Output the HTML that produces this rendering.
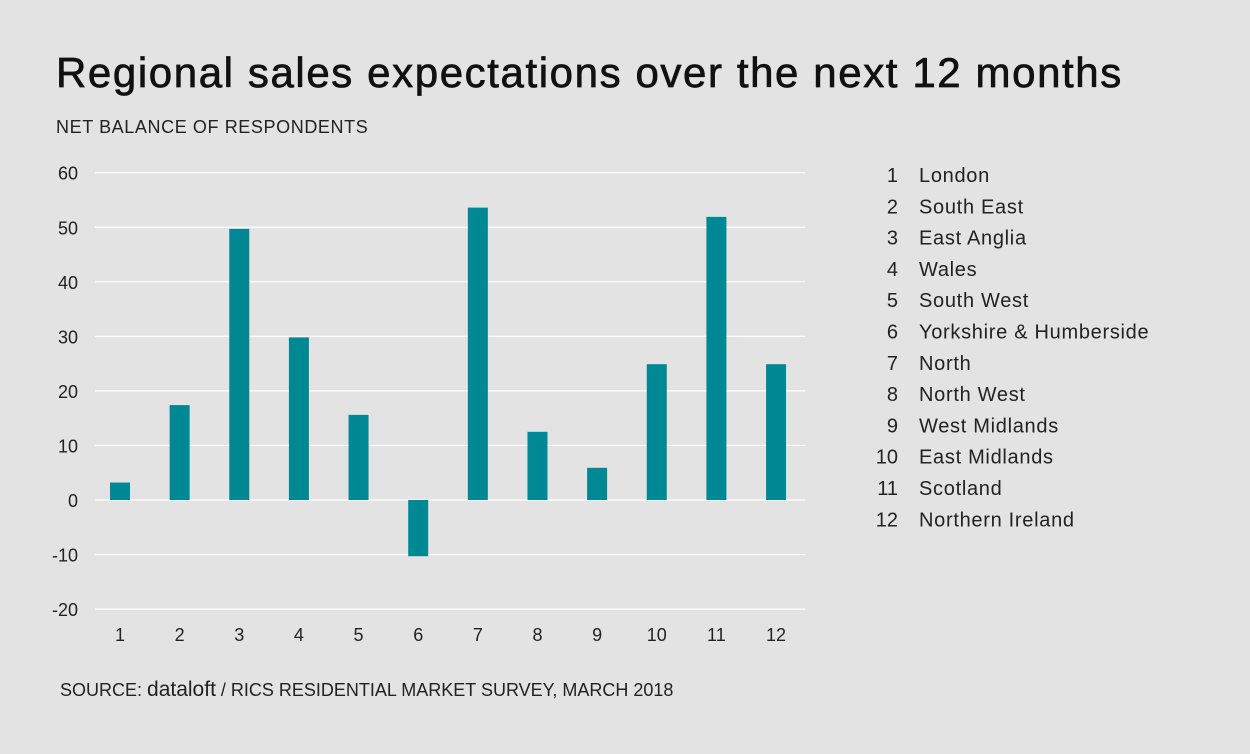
<!DOCTYPE html>
<html><head><meta charset="utf-8"><style>
body{margin:0;width:1250px;height:754px;background:#e3e3e3;font-family:"Liberation Sans",sans-serif;color:#111;overflow:hidden}
#title{position:absolute;left:56px;top:49px;font-size:42px;font-weight:normal;letter-spacing:1.6px;margin:0;-webkit-text-stroke:0.7px #111;white-space:nowrap}
#sub{position:absolute;left:56px;top:117px;font-size:18px;color:#222;letter-spacing:0.6px}
#src{position:absolute;left:60px;top:678px;font-size:18px;color:#222;letter-spacing:0px}
#src b{font-size:21px;font-weight:normal}
svg{position:absolute;left:0;top:0}
</style></head><body>
<h1 id="title">Regional sales expectations over the next 12 months</h1>
<div id="sub">NET BALANCE OF RESPONDENTS</div>
<div id="src">SOURCE: <b>dataloft</b> / RICS RESIDENTIAL MARKET SURVEY, MARCH 2018</div>
<svg id="chart" width="1250" height="754"></svg>
<script>
const categories=["1","2","3","4","5","6","7","8","9","10","11","12"];
const regionNames=["London","South East","East Anglia","Wales","South West","Yorkshire & Humberside","North","North West","West Midlands","East Midlands","Scotland","Northern Ireland"];
const values=[3.2,17.4,49.7,29.8,15.6,-10.3,53.6,12.5,5.9,24.9,51.9,24.9];
const yTicks=[60,50,40,30,20,10,0,-10,-20];
const NS="http://www.w3.org/2000/svg";
const svg=document.getElementById('chart');
const y=v=>500-v*5.455;
const x=i=>120+i*59.64;
function mk(t,a){const e=document.createElementNS(NS,t);for(const k in a)e.setAttribute(k,a[k]);svg.appendChild(e);return e;}
yTicks.forEach(t=>{
 const l=mk('line',{x1:95,x2:805,y1:y(t),y2:y(t),stroke:'#fff','stroke-width':1.2});
 
 
 const tx=mk('text',{x:78,y:y(t)+7,'text-anchor':'end','font-size':18,fill:'#222'});
 tx.textContent=t;
 
 
});
values.forEach((v,i)=>{
 const r=mk('rect',{x:x(i)-10,width:20,y:Math.min(y(v),y(0)),height:Math.abs(y(v)-y(0)),fill:'#008895'});
 
 
 const tx=mk('text',{x:x(i),y:641,'text-anchor':'middle','font-size':18,fill:'#222'});
 tx.textContent=categories[i];
 
 
 const ly=182+i*31.3;
 const n=mk('text',{x:898,y:ly,'text-anchor':'end','font-size':20,fill:'#222'});
 n.textContent=categories[i];
 
 
 const nm=mk('text',{x:919,y:ly,'font-size':20,fill:'#222','letter-spacing':0.7});
 nm.textContent=regionNames[i];
 
 
});
</script>
</body></html>
